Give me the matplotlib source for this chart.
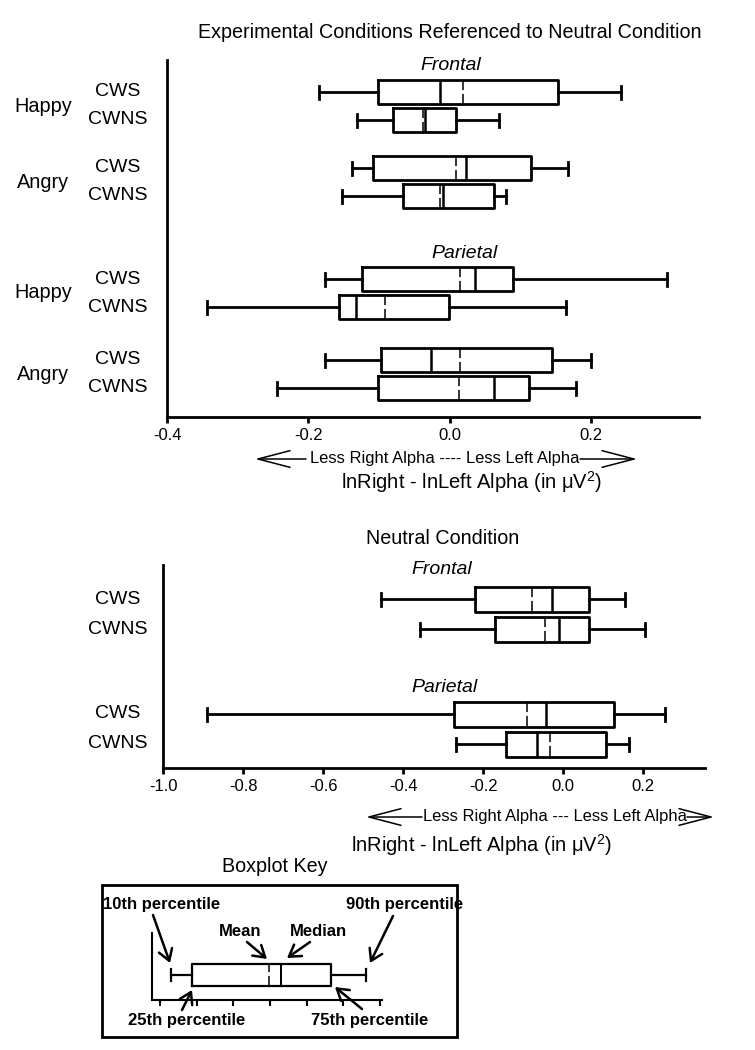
import matplotlib
matplotlib.use("Agg")
import matplotlib.pyplot as plt
from matplotlib.patches import Rectangle
from matplotlib.ticker import FormatStrFormatter

plt.rcParams['font.family'] = ['Liberation Sans', 'DejaVu Sans']
plt.rcParams['axes.unicode_minus'] = False
plt.rcParams['mathtext.fontset'] = 'custom'
plt.rcParams['mathtext.rm'] = 'Liberation Sans'
plt.rcParams['mathtext.it'] = 'Liberation Sans:italic'

# Experimental conditions referenced to neutral
# rows: Frontal (Happy CWS, Happy CWNS, Angry CWS, Angry CWNS), then Parietal (same order)
exp_groups = ["Happy", "Angry", "Happy", "Angry"]
exp_labels = ["CWS", "CWNS"] * 4
exp_p10 = [-0.185, -0.131, -0.138, -0.152, -0.177, -0.343, -0.177, -0.244]
exp_p25 = [-0.101, -0.080, -0.109, -0.066, -0.124, -0.157, -0.098, -0.101]
exp_med = [-0.014, -0.035, 0.023, -0.009, 0.035, -0.133, -0.027, 0.063]
exp_mean = [0.018, -0.038, 0.009, -0.014, 0.014, -0.092, 0.014, 0.013]
exp_p75 = [0.153, 0.009, 0.115, 0.062, 0.090, -0.001, 0.145, 0.112]
exp_p90 = [0.242, 0.070, 0.167, 0.079, 0.307, 0.164, 0.200, 0.179]

# Neutral condition: Frontal CWS, CWNS, Parietal CWS, CWNS
neu_labels = ["CWS", "CWNS"] * 2
neu_p10 = [-0.455, -0.359, -0.890, -0.268]
neu_p25 = [-0.220, -0.171, -0.274, -0.143]
neu_med = [-0.029, -0.011, -0.043, -0.067]
neu_mean = [-0.079, -0.047, -0.092, -0.033]
neu_p75 = [0.063, 0.063, 0.127, 0.107]
neu_p90 = [0.154, 0.203, 0.253, 0.164]

# boxplot key (illustration only)
key_p10 = [0.52]
key_p25 = [1.11]
key_med = [3.52]
key_mean = [3.20]
key_p75 = [4.89]
key_p90 = [5.84]

exp_ticks = [-0.4, -0.2, 0.0, 0.2]
neu_ticks = [-1.0, -0.8, -0.6, -0.4, -0.2, 0.0, 0.2]

# layout (y offsets in pixels from top of each panel)
exp_pos = [32, 60, 108, 136, 219, 247, 300, 328]
neu_pos = [34, 64, 149, 179]

AXIS_LABEL = "lnRight - lnLeft Alpha (in \u03bcV$^{2}$)"


def make_stats(p10, p25, med, mean, p75, p90):
    return [dict(whislo=a, q1=b, med=c, mean=d, q3=e, whishi=f, fliers=[])
            for a, b, c, d, e, f in zip(p10, p25, med, mean, p75, p90)]


def box_kw(lw=2):
    return dict(orientation='horizontal', showmeans=True, meanline=True,
                showfliers=False, manage_ticks=False,
                boxprops=dict(color='black', lw=lw),
                whiskerprops=dict(color='black', lw=lw),
                capprops=dict(color='black', lw=lw),
                medianprops=dict(color='black', lw=lw * 0.9),
                meanprops=dict(color='black', lw=1.1, linestyle=(0, (6.6, 2.5))))


def setup(ax, xlim, ylim, ticks):
    ax.set_xlim(*xlim)
    ax.set_ylim(*ylim)
    for s in ['top', 'right']:
        ax.spines[s].set_visible(False)
    for s in ['left', 'bottom']:
        ax.spines[s].set_linewidth(2)
    ax.set_xticks(ticks)
    ax.xaxis.set_major_formatter(FormatStrFormatter('%.1f'))
    ax.tick_params(axis='x', length=4, width=2, pad=4, labelsize=12)
    ax.set_yticks([])
    ax.patch.set_alpha(0)


W, H = 755, 1050
fig = plt.figure(figsize=(W / 100, H / 100), dpi=100)

# overlay in pixel coordinates for the free text
ov = fig.add_axes([0, 0, 1, 1])
ov.set_xlim(0, W)
ov.set_ylim(H, 0)
ov.axis('off')

arrow_thin = dict(arrowstyle='->,head_length=2.3,head_width=0.6', lw=1.1,
                  color='black', shrinkA=0, shrinkB=0, mutation_scale=10)
arrow_key = dict(arrowstyle='->,head_length=0.8,head_width=0.5', lw=1.8,
                 color='black', shrinkA=0, shrinkB=0, mutation_scale=10)

# ---- top panel ----
ax1 = fig.add_axes([167 / W, 1 - 417 / H, 532 / W, 357 / H])
setup(ax1, (-0.4, 0.3525), (357, 0), exp_ticks)
ax1.bxp(make_stats(exp_p10, exp_p25, exp_med, exp_mean, exp_p75, exp_p90),
        positions=exp_pos, widths=24, capwidths=13, **box_kw())
tr1 = ax1.get_yaxis_transform()
for p, lab in zip(exp_pos, exp_labels):
    ax1.text(-0.092, p, lab, transform=tr1, ha='center', va='center', fontsize=14)
for i, g in enumerate(exp_groups):
    ax1.text(-0.233, (exp_pos[2 * i] + exp_pos[2 * i + 1]) / 2, g, transform=tr1,
             ha='center', va='center', fontsize=14.3)

ov.text(450, 32, "Experimental Conditions Referenced to Neutral Condition",
        ha='center', va='center', fontsize=14.2)
ov.text(451, 66, "Frontal", style='italic', ha='center', va='center', fontsize=14)
ov.text(465, 254, "Parietal", style='italic', ha='center', va='center', fontsize=14)
ov.annotate('', xy=(255, 459), xytext=(306, 459), arrowprops=arrow_thin)
ov.annotate('', xy=(637, 459), xytext=(580, 459), arrowprops=arrow_thin)
ov.text(445, 459, "Less Right Alpha ---- Less Left Alpha", ha='center', va='center', fontsize=11.9)
ov.text(472, 482, AXIS_LABEL, ha='center', va='center', fontsize=14.5)

# ---- bottom panel ----
ax2 = fig.add_axes([163.3 / W, 1 - 768 / H, 541.3 / W, 203 / H])
setup(ax2, (-1.0, 0.353), (203, 0), neu_ticks)
ax2.bxp(make_stats(neu_p10, neu_p25, neu_med, neu_mean, neu_p75, neu_p90),
        positions=neu_pos, widths=25, capwidths=13, **box_kw())
tr2 = ax2.get_yaxis_transform()
for p, lab in zip(neu_pos, neu_labels):
    ax2.text(-0.084, p, lab, transform=tr2, ha='center', va='center', fontsize=14)

ov.text(443, 538, "Neutral Condition", ha='center', va='center', fontsize=14.2)
ov.text(442, 570, "Frontal", style='italic', ha='center', va='center', fontsize=14)
ov.text(445, 687, "Parietal", style='italic', ha='center', va='center', fontsize=14)
ov.annotate('', xy=(366, 817), xytext=(422, 817), arrowprops=arrow_thin)
ov.annotate('', xy=(714, 817), xytext=(687, 817), arrowprops=arrow_thin)
ov.text(555, 817, "Less Right Alpha --- Less Left Alpha", ha='center', va='center', fontsize=11.9)
ov.text(482, 845, AXIS_LABEL, ha='center', va='center', fontsize=14.5)

# ---- boxplot key ----
ov.text(275, 866, "Boxplot Key", ha='center', va='center', fontsize=14.2)
ov.add_patch(Rectangle((101.7, 885), 355.3, 151.7, fill=False, lw=2, ec='black'))

ka = fig.add_axes([151.7 / W, 1 - 1000 / H, 230 / W, 67 / H])
ka.set_xlim(0, 6.27)
ka.set_ylim(0, 67)
for s in ['top', 'right']:
    ka.spines[s].set_visible(False)
for s in ['left', 'bottom']:
    ka.spines[s].set_linewidth(1.5)
ka.set_xticks([0.226 + i for i in range(7)])
ka.tick_params(axis='x', length=4, width=1.5, labelbottom=False)
ka.set_yticks([])
ka.patch.set_alpha(0)
ka.bxp(make_stats(key_p10, key_p25, key_med, key_mean, key_p75, key_p90),
       positions=[25], widths=22, capwidths=12, **box_kw(1.6))

kfont = dict(fontsize=12, fontweight='bold', va='center')
ov.text(103, 905, "10th percentile", ha='left', **kfont)
ov.text(463, 905, "90th percentile", ha='right', **kfont)
ov.text(240, 932, "Mean", ha='center', **kfont)
ov.text(318, 932, "Median", ha='center', **kfont)
ov.text(187, 1021, "25th percentile", ha='center', **kfont)
ov.text(370, 1021, "75th percentile", ha='center', **kfont)
ov.annotate('', xy=(170, 963), xytext=(153, 915), arrowprops=arrow_key)
ov.annotate('', xy=(267, 959), xytext=(247, 942), arrowprops=arrow_key)
ov.annotate('', xy=(287, 958), xytext=(310, 942), arrowprops=arrow_key)
ov.annotate('', xy=(370, 963), xytext=(393, 916), arrowprops=arrow_key)
ov.annotate('', xy=(192, 990), xytext=(182, 1010), arrowprops=arrow_key)
ov.annotate('', xy=(335, 987), xytext=(362, 1009), arrowprops=arrow_key)

fig.savefig("out.png", dpi=100)
